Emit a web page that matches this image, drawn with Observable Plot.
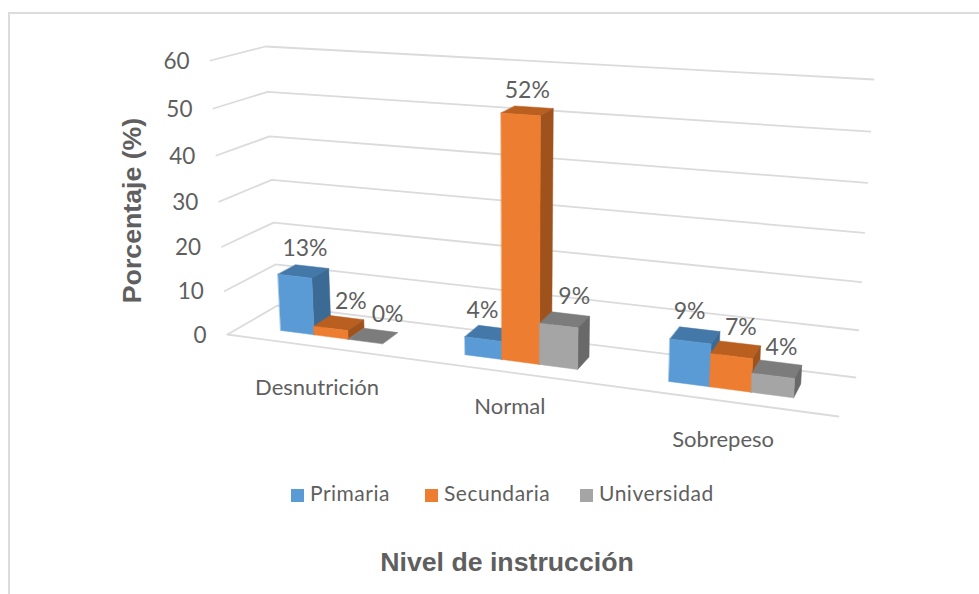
<!DOCTYPE html>
<html><head><meta charset="utf-8">
<script src="https://cdn.jsdelivr.net/npm/d3@7"></script>
<script src="https://cdn.jsdelivr.net/npm/@observablehq/plot@0.6"></script>
<style>
html,body{margin:0;padding:0;background:#fff;width:979px;height:594px;overflow:hidden}
#frame{position:absolute;left:8px;top:12px;right:0;bottom:0;border-left:2.5px solid #dcdcdc;border-top:2.5px solid #dcdcdc}
#chart{position:absolute;left:0;top:0}
#below{position:absolute;left:0;top:470px;width:979px;font-family:Lato,sans-serif}
#legend{position:absolute;left:0;top:0;width:979px;height:46px;color:#5f5f5f;font-size:21px;letter-spacing:.5px}
.item{position:absolute;top:11px;white-space:nowrap;line-height:24px}
.sw{display:inline-block;width:13px;height:13px;margin-right:6px;vertical-align:-1px}
#xtitle{position:absolute;left:0;width:1014px;top:77px;text-align:center;font:bold 26.7px "Liberation Sans",sans-serif;color:#5f5f5f}
</style></head><body>
<div id="frame"></div>
<div id="chart"></div>
<div id="below"><div id="legend"></div><div id="xtitle"></div></div>
<script>
const categories = ["Desnutrición","Normal","Sobrepeso"];
const seriesNames = ["Primaria","Secundaria","Universidad"];
const primaria = [13,4,9];
const secundaria = [2,52,7];
const universidad = [0,9,4];
const yTicks = [0,10,20,30,40,50,60];
const yTitle = "Porcentaje (%)";
const xTitle = "Nivel de instrucción";
const faceColors = {
  Primaria:{front:"#5b9bd5",top:"#4378a8",side:"#3b6a94"},
  Secundaria:{front:"#ed7d31",top:"#b95f20",side:"#a0521c"},
  Universidad:{front:"#a5a5a5",top:"#7c7c7c",side:"#696969"}
};
const categoryLabelDy = [41,35,39];
// nudges of the data labels from the bar tops, one row per series, one column per category
const labelNudgeX = [[1.5,-7.5,-5.5],[12,0,5],[14.5,9.5,4.5]];
const labelNudgeY = [[-4,-4,-5],[-2,-1,-3],[-2,-4,-3]];

// view of the 3-D box: corners of the plot box on the picture, [width, depth, height]
const W=979,H=470;
const corner={f0:[[227,334],[838,416]],b0:[[277,305],[855,377]],f1:[[210,60],[856,101]],b1:[[265,46],[873,79]]};
const warpU=u=>.859*u/(1-.141*u);
const warpV=v=>{const t=v/60;return .942*t/(1-.058*t);};
const mix=(a,b,t)=>[a[0]+(b[0]-a[0])*t,a[1]+(b[1]-a[1])*t];
function project(u,d,v){
  const U=warpU(u),V=warpV(v);
  const low=mix(mix(corner.f0[0],corner.f0[1],U),mix(corner.b0[0],corner.b0[1],U),d);
  const high=mix(mix(corner.f1[0],corner.f1[1],U),mix(corner.b1[0],corner.b1[1],U),d);
  return mix(low,high,V);
}
const depth0=.31,depth1=.67,barShare=.565/3;
const seriesValues=[primaria,secundaria,universidad];
const faces=[],tops=[];
categories.forEach((cat,c)=>{
  const groupCentre=(c+.5)/3;
  seriesNames.forEach((s,i)=>{
    const v=seriesValues[i][c];
    const u0=groupCentre+(i-1.5)*barShare/3, u1=u0+barShare/3;
    const P=(u,d,h)=>project(u,d,h);
    const quads={
      top:[P(u0,depth0,v),P(u1,depth0,v),P(u1,depth1,v),P(u0,depth1,v)],
      side:[P(u1,depth0,0),P(u1,depth1,0),P(u1,depth1,v),P(u1,depth0,v)],
      front:[P(u0,depth0,0),P(u1,depth0,0),P(u1,depth0,v),P(u0,depth0,v)]
    };
    for(const k of (v>0?["top","side","front"]:["top"])){
      quads[k].forEach(p=>faces.push({x:p[0],y:p[1],id:cat+s+k,color:faceColors[s][k]}));
    }
    const t=project((u0+u1)/2,(depth0+depth1)/2,v);
    tops.push({x:t[0]+labelNudgeX[i][c],y:t[1]+labelNudgeY[i][c],label:v+"%"});
  });
});
const grid=[];
yTicks.forEach(t=>{
  [[0,0],[0,1],[1,1]].forEach(([u,d])=>{const p=project(u,d,t);grid.push({x:p[0],y:p[1],id:"g"+t});});
});
[0,1].forEach(u=>{const p=project(u,0,0);grid.push({x:p[0],y:p[1],id:"front"});});
const tickRows=yTicks.map(t=>{const p=project(0,0,t);return{x:p[0],y:p[1],label:String(t)};});
const catRows=categories.map((c,i)=>{const p=project((i+.5)/3,0,0);return{x:p[0],y:p[1]+categoryLabelDy[i],label:c};});
const font="Lato, sans-serif";
const ink="#5f5f5f";
const plot=Plot.plot({
  width:W,height:H,margin:0,
  style:{background:"transparent"},
  x:{axis:null,domain:[0,W],range:[0,W]},
  y:{axis:null,domain:[0,H],range:[0,H]},
  color:{type:"identity"},
  marks:[
    Plot.line(grid,{x:"x",y:"y",z:"id",stroke:"#dbdbdb",strokeWidth:1.8}),
    Plot.line(faces,{x:"x",y:"y",z:"id",fill:"color",stroke:"color",strokeWidth:.5,curve:"linear-closed"}),
    Plot.text(tops,{x:"x",y:"y",text:"label",dy:-19,fontSize:23,fill:ink,fontFamily:font}),
    Plot.text(tickRows,{x:"x",y:"y",text:"label",textAnchor:"end",dx:-21,dy:1,fontSize:22.5,fill:ink,fontFamily:font}),
    Plot.text(catRows,{x:"x",y:"y",text:"label",fontSize:22,fill:ink,fontFamily:font}),
    Plot.text([yTitle],{frameAnchor:"top-left",dx:122,dy:210,rotate:-90,textAnchor:"middle",fontSize:26.7,fontWeight:"bold",fill:ink,fontFamily:"Liberation Sans, sans-serif"})
  ]
});
document.getElementById("chart").append(plot);
const legendLefts=[291,425,580];
const fronts=seriesNames.map(s=>faceColors[s].front);
const legend=d3.select("#legend");
seriesNames.forEach((s,i)=>{
  const it=legend.append("div").attr("class","item").style("left",legendLefts[i]+"px");
  it.append("span").attr("class","sw").style("background",fronts[i]);
  it.append("span").text(s);
});
document.getElementById("xtitle").textContent=xTitle;
</script></body></html>
